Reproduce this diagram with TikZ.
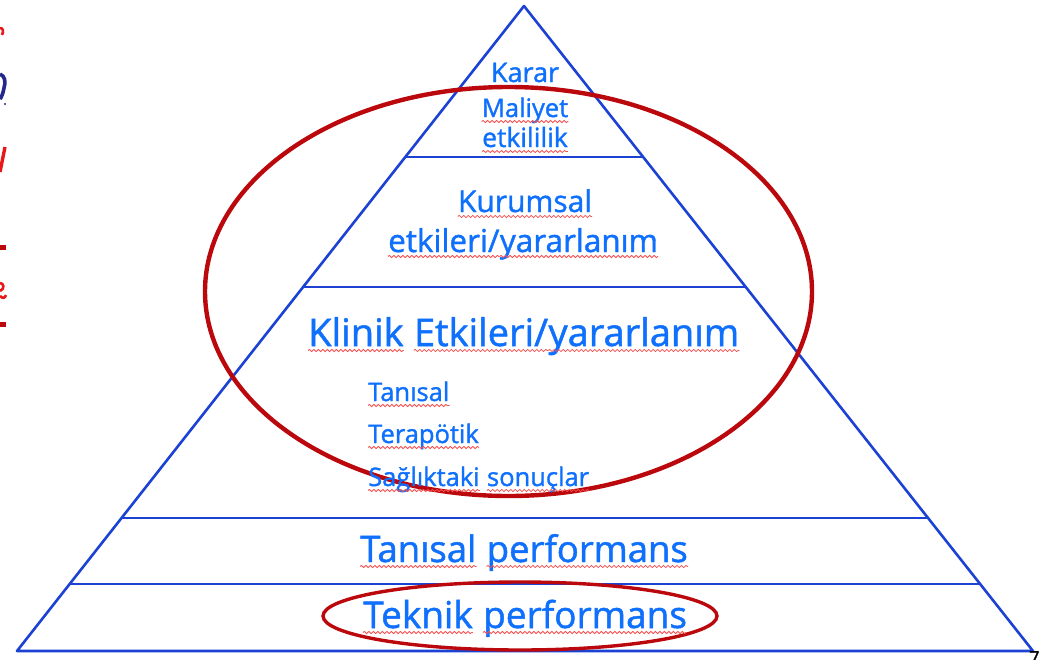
\documentclass[tikz,border=0pt]{standalone}
\usepackage{fontspec}
\setmainfont{Open Sans}[FakeBold=1.3]
\usetikzlibrary{calc,decorations.pathmorphing}

\definecolor{pyrblue}{RGB}{28,66,212}
\definecolor{txtblue}{RGB}{14,112,252}
\definecolor{ringred}{RGB}{186,8,12}
\definecolor{wavered}{RGB}{245,80,80}
\definecolor{edgered}{RGB}{232,24,24}
\definecolor{edgenavy}{RGB}{36,40,140}

% font size helper
\newcommand\fs[1]{\fontsize{#1}{#1}\selectfont}
% red wavy underline below a word node
\newcommand\uw[1]{\draw[wave] ([yshift=-4.5pt]#1.base west) -- ([yshift=-4.5pt]#1.base east);}

\begin{document}
\begin{tikzpicture}[x=1pt,y=-1pt,
  pyr/.style={draw=pyrblue,line width=2.6pt,line join=round},
  ring/.style={draw=ringred,line width=4.4pt},
  word/.style={text=txtblue,inner sep=0pt,anchor=base west},
  cword/.style={text=txtblue,inner sep=0pt,anchor=base},
  wave/.style={draw=wavered,line width=0.8pt,decorate,
    decoration={snake,segment length=4.5pt,amplitude=1.1pt}}]
\useasboundingbox (0,0) rectangle (1047,659);
\clip (0,0) rectangle (1047,659);

% pyramid outline
\coordinate (apex) at (524,6);
\coordinate (bl) at (17,651);
\coordinate (br) at (1033,651);
\draw[pyr] (apex) -- (bl) -- (br) -- cycle;

% level dividers
\foreach \t/\n in {0.2341/a,0.4357/b,0.7938/c,0.8961/d}{
  \coordinate (L\n) at ($(apex)!\t!(bl)$);
  \coordinate (R\n) at ($(apex)!\t!(br)$);
  \draw[pyr] (L\n) -- (R\n);
}

% highlight rings
\draw[ring] (508.5,291.5) ellipse [x radius=303.5,y radius=204.5];
\draw[ring,line width=3.4pt] (520,616) ellipse [x radius=197,y radius=34];

% top level
\node[cword,font=\fs{27}] (karar) at (525,82) {Karar};
\node[cword,font=\fs{25.5}] (maliyet) at (525,117) {Maliyet};
\node[cword,font=\fs{26.5}] (etkililik) at (525,147) {etkililik};
\uw{maliyet} \uw{etkililik}

% institutional level
\node[cword,font=\fs{30}] (kurumsal) at (525,212) {Kurumsal};
\node[word,font=\fs{31.5}] (ke1) at (388,252) {etkileri/};
\node[word,font=\fs{31.5}] (ke2) at (ke1.base east) {yararlanım};
\uw{kurumsal} \uw{ke1} \uw{ke2}

% clinical level
\node[word,font=\fs{38}] (kl1) at (308,346) {Klinik};
\node[word,font=\fs{38}] (kl2) at ([xshift=10pt]kl1.base east) {Etkileri/};
\node[word,font=\fs{38}] (kl3) at (kl2.base east) {yararlanım};
\uw{kl1} \uw{kl2} \uw{kl3}
\node[word,font=\fs{25.5}] (tanisal) at (368,401) {Tanısal};
\node[word,font=\fs{25.5}] (terapotik) at (368,443) {Terapötik};
\node[word,font=\fs{25.5}] (sag1) at (368,486) {Sağlıktaki};
\node[word,font=\fs{25.5}] (sag2) at ([xshift=7pt]sag1.base east) {sonuçlar};
\uw{tanisal} \uw{terapotik} \uw{sag1} \uw{sag2}

% diagnostic performance
\node[word,font=\fs{36.5}] (tp1) at (360,562) {Tanısal};
\node[word,font=\fs{36.5}] (tp2) at ([xshift=10pt]tp1.base east) {performans};
\uw{tp1} \uw{tp2}

% technical performance
\node[word,font=\fs{37}] (te1) at (363,628) {Teknik};
\node[word,font=\fs{37}] (te2) at ([xshift=10pt]te1.base east) {performans};
\uw{te1} \uw{te2}

% page number peeking in at the corner
\node[inner sep=0pt,anchor=base west,font=\fs{18}] (pageno) at (1029,664) {7};

% cut-off fragments at the left edge
\draw[edgered,line width=2.6pt] (0,28) .. controls (3,28) and (4,31) .. (2,35);
\draw[edgenavy,line width=3.6pt] (0,74) .. controls (5,76) and (6,82) .. (4,88) .. controls (3,94) and (1,98) .. (0,99);
\fill[edgenavy] (5,104) circle (1.1);
\draw[edgered,line width=3.4pt] (0,172) -- (5,147);
\fill[ringred] (0,245) rectangle (6,250);
\draw[edgered,line width=2.6pt] (0,283) .. controls (4,283) and (5,289) .. (0,291) (0,296) .. controls (3,299) and (5,298) .. (6,295);
\fill[ringred] (0,322) rectangle (6,327);
\end{tikzpicture}
\end{document}
